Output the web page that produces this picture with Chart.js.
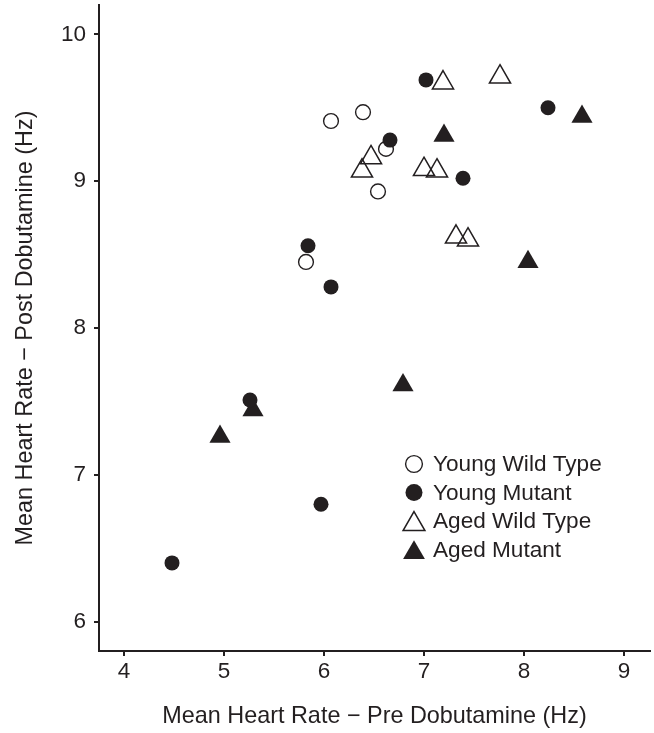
<!DOCTYPE html>
<html>
<head>
<meta charset="utf-8">
<title>Mean Heart Rate - Pre vs Post Dobutamine</title>
<script src="https://cdn.jsdelivr.net/npm/chart.js@4.4.1/dist/chart.umd.min.js"></script>
<style>
  html, body { margin: 0; padding: 0; background: #fff; }
  #wrap { width: 654px; height: 733px; }
</style>
</head>
<body>
<div id="wrap"><canvas id="hrChart" width="654" height="733"></canvas></div>
<script>
// Series values (Hz)
const youngWtX = [6.07, 6.39, 6.62, 6.54, 5.82];
const youngWtY = [9.41, 9.47, 9.22, 8.93, 8.45];

const youngMutX = [7.02, 8.24, 6.66, 7.39, 6.07, 5.84, 5.26, 5.97, 4.48];
const youngMutY = [9.69, 9.50, 9.28, 9.02, 8.28, 8.56, 7.51, 6.80, 6.40];

const agedWtX = [7.19, 7.76, 6.47, 6.38, 7.00, 7.13, 7.32, 7.44];
const agedWtY = [9.67, 9.71, 9.16, 9.07, 9.08, 9.07, 8.62, 8.60];

const agedMutX = [8.58, 7.20, 8.04, 5.29, 4.96, 6.79];
const agedMutY = [9.44, 9.31, 8.45, 7.44, 7.26, 7.61];

const groupLabels = ["Young Wild Type", "Young Mutant", "Aged Wild Type", "Aged Mutant"];
const xTicks = [4, 5, 6, 7, 8, 9];
const yTicks = [6, 7, 8, 9, 10];

const INK = "#231f20";
const FONT = "'Liberation Sans', Arial, Helvetica, sans-serif";

const toPoints = (xs, ys) => xs.map((x, i) => ({ x: x, y: ys[i] }));

// marker looks per group
const looks = [
  { style: "circle", radius: 7.4, fill: "rgba(0,0,0,0)", border: 1.4 },
  { style: "circle", radius: 7.5, fill: INK, border: 0 },
  { style: "triangle", radius: 12.2, fill: "rgba(0,0,0,0)", border: 1.5 },
  { style: "triangle", radius: 12.2, fill: INK, border: 0 },
];

function drawMarker(ctx, look, x, y) {
  ctx.beginPath();
  if (look.style === "circle") {
    ctx.arc(x, y, look.radius, 0, Math.PI * 2);
  } else {
    // same shape as chart.js triangle: circumradius = radius
    const r = look.radius;
    for (let k = 0; k < 3; k++) {
      const a = k * 2 * Math.PI / 3;
      const px = x + Math.sin(a) * r;
      const py = y - Math.cos(a) * r;
      k === 0 ? ctx.moveTo(px, py) : ctx.lineTo(px, py);
    }
    ctx.closePath();
  }
  ctx.fillStyle = look.fill;
  ctx.fill();
  if (look.border > 0) {
    ctx.lineWidth = look.border;
    ctx.strokeStyle = INK;
    ctx.stroke();
  }
}

// legend sits inside the plot, lower right
const insetLegend = {
  id: "insetLegend",
  afterDatasetsDraw(chart) {
    const ctx = chart.ctx;
    const area = chart.chartArea;
    const symX = area.left + 315;
    const textX = area.left + 334;
    ctx.save();
    ctx.font = "22.6px " + FONT;
    ctx.textBaseline = "alphabetic";
    ctx.textAlign = "left";
    groupLabels.forEach((label, i) => {
      const base = area.top + 466 + i * 28.6;
      const look = looks[i];
      const cy = look.style === "circle" ? base - 7 : base - 4;
      const r = look.style === "circle" ? look.radius + 1 : look.radius + 0.4;
      drawMarker(ctx, Object.assign({}, look, { radius: r }), symX, cy);
      ctx.fillStyle = INK;
      ctx.fillText(label, textX, base);
    });
    ctx.restore();
  },
};

const datasets = [
  toPoints(youngWtX, youngWtY),
  toPoints(youngMutX, youngMutY),
  toPoints(agedWtX, agedWtY),
  toPoints(agedMutX, agedMutY),
].map((pts, i) => ({
  label: groupLabels[i],
  data: pts,
  pointStyle: looks[i].style,
  pointRadius: looks[i].radius,
  pointHoverRadius: looks[i].radius,
  pointBackgroundColor: looks[i].fill,
  pointBorderColor: INK,
  pointBorderWidth: looks[i].border,
  showLine: false,
}));

// no extra room for overhanging tick labels, the frame is fixed
const noPad = (scale) => {
  scale.paddingTop = 0;
  scale.paddingBottom = 0;
  scale.paddingLeft = 0;
  scale.paddingRight = 0;
};

const axisCommon = {
  type: "linear",
  grid: {
    display: true,
    drawOnChartArea: false,
    drawTicks: true,
    tickLength: 5,
    color: INK,
    lineWidth: 2,
  },
  border: { display: true, color: INK, width: 2 },
};

new Chart(document.getElementById("hrChart"), {
  type: "scatter",
  data: { datasets: datasets },
  plugins: [insetLegend],
  options: {
    responsive: false,
    devicePixelRatio: 1,
    animation: false,
    layout: { autoPadding: false, padding: { top: 5, right: 4, left: 0, bottom: 0 } },
    plugins: {
      legend: { display: false },
      tooltip: { enabled: false },
    },
    scales: {
      x: {
        ...axisCommon,
        position: "bottom",
        min: 3.75,
        max: 9.26,
        afterBuildTicks: (scale) => { scale.ticks = xTicks.map((v) => ({ value: v })); },
        afterFit: (scale) => { scale.height = 82; noPad(scale); },
        ticks: {
          color: INK,
          font: { family: FONT, size: 22.5 },
          padding: 2,
          maxRotation: 0,
          callback: (v) => String(v),
        },
        title: {
          display: true,
          text: "Mean Heart Rate \u2212 Pre Dobutamine (Hz)",
          color: INK,
          font: { family: FONT, size: 23.4 },
          padding: { top: 0, bottom: 2 },
        },
      },
      y: {
        ...axisCommon,
        position: "left",
        min: 5.8,
        max: 10.2,
        afterBuildTicks: (scale) => { scale.ticks = yTicks.map((v) => ({ value: v })); },
        afterFit: (scale) => { scale.width = 99; noPad(scale); },
        ticks: {
          color: INK,
          font: { family: FONT, size: 22.5 },
          padding: 8,
          callback: (v) => String(v),
        },
        title: {
          display: true,
          text: "Mean Heart Rate \u2212 Post Dobutamine (Hz)",
          color: INK,
          font: { family: FONT, size: 23.4 },
          padding: { top: 12, bottom: 0 },
        },
      },
    },
  },
});
</script>
</body>
</html>
